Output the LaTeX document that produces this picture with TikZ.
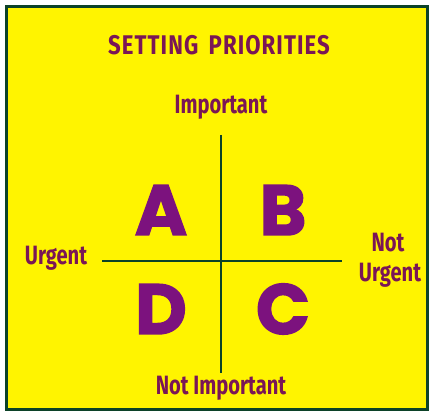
\documentclass[tikz,border=0pt]{standalone}
\usepackage{fontspec}
\newfontfamily\labfont{Fira Sans}[FakeStretch=0.76]
\newfontfamily\ttlfont{Fira Sans}[FakeStretch=0.82,LetterSpace=4]
\newfontfamily\bigfont{Poppins}[FakeBold=2]
\definecolor{bgyellow}{RGB}{255,244,0}
\definecolor{txtpurple}{RGB}{122,22,86}
\definecolor{letpurple}{RGB}{124,18,126}
\definecolor{darkgreen}{RGB}{12,66,40}
\begin{document}
\begin{tikzpicture}[x=1pt,y=-1pt,
  lab/.style={text=txtpurple,font=\labfont\bfseries\fontsize{26.5}{27}\selectfont,inner sep=0pt,anchor=base},
  ttl/.style={text=txtpurple,font=\ttlfont\bfseries\fontsize{27}{28}\selectfont,inner sep=0pt,anchor=base},
  big/.style={text=letpurple,font=\bigfont\bfseries\fontsize{71}{71}\selectfont,inner sep=0pt,anchor=base},
  axis/.style={draw=darkgreen,line width=2.4pt}]
\useasboundingbox (0,0) rectangle (432,417);
\fill[white] (0,0) rectangle (432,417);
\draw[fill=bgyellow,draw=darkgreen,line width=3pt] (6,7) rectangle (427,410);
\node[ttl] (title) at (219,55) {SETTING\hspace{4pt} PRIORITIES};
\node[lab] (imp) at (221,114) {Important};
\node[lab] (nimp) at (221,395) {Not Important};
\node[lab] (urg) at (56,265) {Urgent};
\node[lab] (nnot) at (388,252) {Not};
\node[lab] (nurg) at (390,282) {Urgent};
\coordinate (vt) at (221,135);
\coordinate (vb) at (221,373);
\coordinate (hl) at (102,261);
\coordinate (hr) at (342,261);
\draw[axis] (vt) -- (vb);
\draw[axis] (hl) -- (hr);
\node[big] (A) at (161,235) {A};
\node[big] (B) at (283,235) {B};
\node[big] (D) at (161,334) {D};
\node[big] (C) at (283,334) {C};
\end{tikzpicture}
\end{document}
